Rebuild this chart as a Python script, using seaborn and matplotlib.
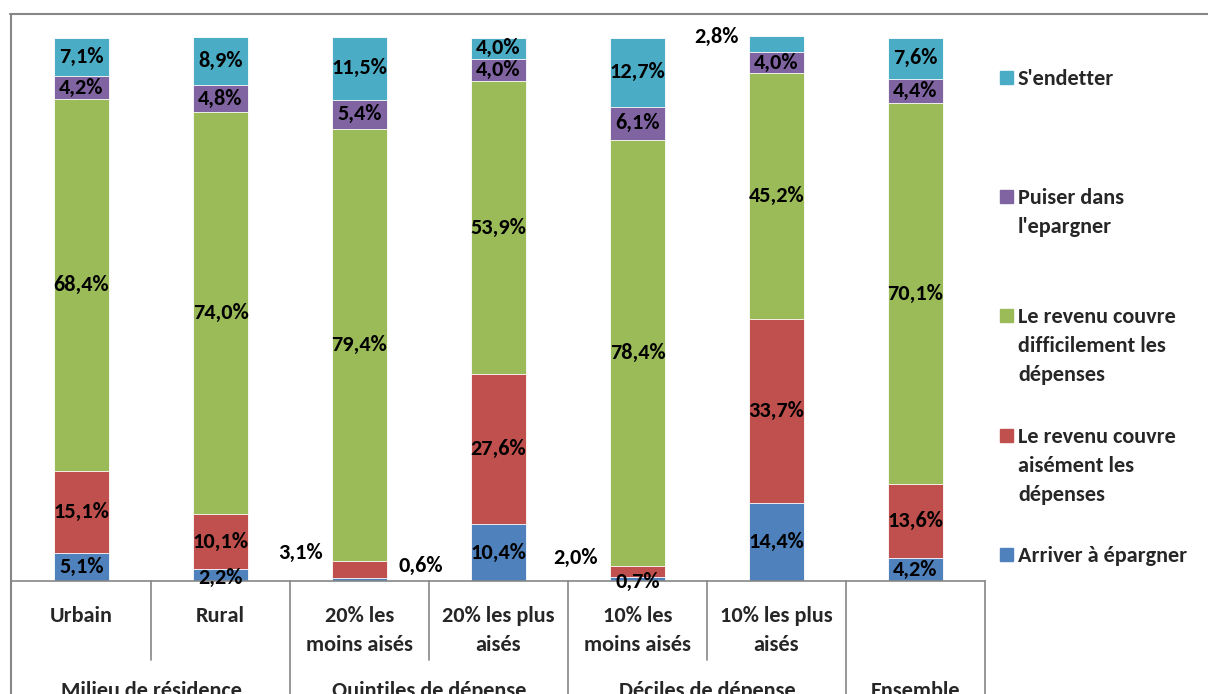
import matplotlib
matplotlib.use("Agg")
import matplotlib.pyplot as plt
import seaborn as sns
import numpy as np
from matplotlib import font_manager
from matplotlib.lines import Line2D
from matplotlib.patches import Rectangle
from matplotlib.transforms import blended_transform_factory

# ---------------- data ----------------
bar_keys = ["Urbain", "Rural", "20% les moins aisés", "20% les plus aisés",
            "10% les moins aisés", "10% les plus aisés", "Ensemble"]
tick_labels = ["Urbain", "Rural", "20% les\nmoins aisés", "20% les plus\naisés",
               "10% les\nmoins aisés", "10% les plus\naisés", ""]
group_labels = ["Milieu de résidence", "Quintiles de dépense", "Déciles de dépense", "Ensemble"]
group_spans = [2, 2, 2, 1]

series_names = ["Arriver à épargner",
                "Le revenu couvre\naisément les\ndépenses",
                "Le revenu couvre\ndifficilement les\ndépenses",
                "Puiser dans\nl'epargner",
                "S'endetter"]
epargner = [5.1, 2.2, 0.6, 10.4, 0.7, 14.4, 4.2]
aisement = [15.1, 10.1, 3.1, 27.6, 2.0, 33.7, 13.6]
difficilement = [68.4, 74.0, 79.4, 53.9, 78.4, 45.2, 70.1]
puiser = [4.2, 4.8, 5.4, 4.0, 6.1, 4.0, 4.4]
endetter = [7.1, 8.9, 11.5, 4.0, 12.7, 2.8, 7.6]

colors = ["#4F81BD", "#C0504D", "#9BBB59", "#8064A2", "#4BACC6"]

# ---------------- style ----------------
sns.set_theme(style="white")
avail = {f.name for f in font_manager.fontManager.ttflist}
fam = [f for f in ["Carlito", "Calibri", "Lato", "DejaVu Sans"] if f in avail]
plt.rcParams["font.family"] = fam
plt.rcParams["font.weight"] = "bold"
FS = 16
LINE_PX = 28.8

W, H = 1208, 694
fig = plt.figure(figsize=(W / 100, H / 100), dpi=100)
fig.patch.set_facecolor("white")


def fx(px):
    return px / W


def fy(py):
    return 1 - py / H


AX_L, AX_R, AX_T, AX_B = 12, 985, 14, 581
BAR_TOP_PX = 37
ax = fig.add_axes([fx(AX_L), fy(AX_B), (AX_R - AX_L) / W, (AX_B - AX_T) / H])

values = np.array([epargner, aisement, difficilement, puiser, endetter])
cum = np.cumsum(values, axis=0)

# overlay cumulative bars from top segment down to bottom segment
for k in range(len(values) - 1, -1, -1):
    sns.barplot(x=bar_keys, y=cum[k], order=bar_keys, color=colors[k],
                width=0.4, saturation=1, edgecolor="white", linewidth=0.6, ax=ax)

ymax = 100 * (AX_B - AX_T) / (AX_B - BAR_TOP_PX)
ax.set_xlim(-0.5, len(bar_keys) - 0.5)
ax.set_ylim(0, ymax)
ax.set_xlabel("")
ax.set_ylabel("")
ax.set_xticks([])
ax.set_yticks([])
for s in ["top", "right", "left"]:
    ax.spines[s].set_visible(False)
ax.spines["bottom"].set_color("#868686")
ax.spines["bottom"].set_linewidth(1.2)

# ---------------- data labels ----------------
offsets = {
    (0, 2): (61, 13),   # 0,6%
    (1, 2): (-59, 16),  # 3,1%
    (1, 4): (-62, 14),  # 2,0%
    (0, 4): (0, -3),    # 0,7%
    (4, 5): (-60, 7),   # 2,8%
    (0, 1): (0, -3),    # 2,2%
}
for k in range(len(values)):
    for i in range(len(bar_keys)):
        v = values[k][i]
        yc = cum[k][i] - v / 2
        dx, dy = offsets.get((k, i), (0, 0))
        ax.annotate(f"{v:.1f}%".replace(".", ","), xy=(i, yc), xytext=(dx, dy),
                    textcoords="offset pixels", ha="center", va="center",
                    fontsize=FS, fontweight="bold", color="black",
                    annotation_clip=False)


def multiline(x, base_py, text, transform, ha):
    for j, line in enumerate(text.split("\n")):
        fig.text(x, fy(base_py + j * LINE_PX), line, transform=transform,
                 ha=ha, va="baseline", fontsize=FS, fontweight="bold")


# ---------------- category table ----------------
gray = "#868686"
trans = blended_transform_factory(ax.transData, fig.transFigure)
long_lines = set()
pos = -0.5
for span in group_spans:
    pos += span
    long_lines.add(pos)
for j in range(len(bar_keys)):
    xb = j + 0.5
    y_end = fy(694) if xb in long_lines else fy(660)
    fig.add_artist(Line2D([xb, xb], [fy(AX_B), y_end], transform=trans,
                          color=gray, lw=1.2))
for i, lab in enumerate(tick_labels):
    multiline(i, 622, lab, trans, "center")
start = 0
for lab, span in zip(group_labels, group_spans):
    xc = start + (span - 1) / 2
    multiline(xc, 697, lab, trans, "center")
    start += span

# ---------------- frame ----------------
fig.add_artist(Line2D([fx(10), fx(W)], [fy(14), fy(14)], transform=fig.transFigure,
                      color=gray, lw=1.5))
fig.add_artist(Line2D([fx(11), fx(11)], [fy(14), fy(H)], transform=fig.transFigure,
                      color=gray, lw=1.5))

# ---------------- legend ----------------
legend_y = {4: 78, 3: 197, 2: 316, 1: 436, 0: 555}
for k, yc in legend_y.items():
    fig.add_artist(Rectangle((fx(1000), fy(yc + 6)), 13 / W, 13 / H,
                             transform=fig.transFigure, color=colors[k]))
    multiline(fx(1018), yc + 7, series_names[k], fig.transFigure, "left")

fig.savefig("out.png", dpi=100, facecolor="white")
